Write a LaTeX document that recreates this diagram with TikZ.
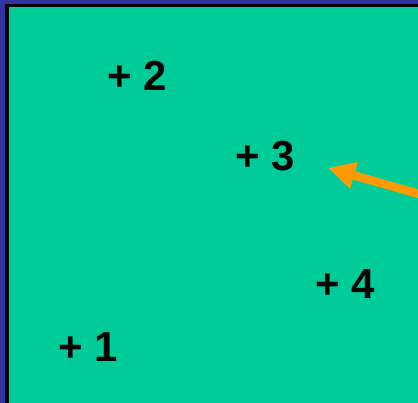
\documentclass[tikz,border=0pt]{standalone}
\usepackage{fontspec}
\setmainfont{Liberation Sans}
\usetikzlibrary{arrows.meta}
\definecolor{bandblue}{RGB}{51,51,160}
\definecolor{bggreen}{RGB}{0,204,153}
\definecolor{arroworange}{RGB}{255,153,0}
\begin{document}
\begin{tikzpicture}[x=1pt,y=1pt,
  lbl/.style={inner sep=0pt,font=\fontsize{42}{44}\selectfont\bfseries}]
\useasboundingbox (0,0) rectangle (418,403);
\clip (0,0) rectangle (418,403);
\fill[bandblue] (0,0) rectangle (418,403);
\fill[black] (5,0) rectangle (418,399);
\fill[bggreen] (8.5,0) rectangle (418,396);
\node[lbl] (p1) at (88,56) {+ 1};
\node[lbl] (p2) at (137,327) {+ 2};
\node[lbl] (p3) at (265,247) {+ 3};
\node[lbl] (p4) at (345,119) {+ 4};
\coordinate (tail) at (440,203);
\coordinate (tip) at (328,235);
\draw[arroworange,line width=8.5pt,-{Triangle[length=27pt,width=26pt]}] (tail) -- (tip);
\end{tikzpicture}
\end{document}
